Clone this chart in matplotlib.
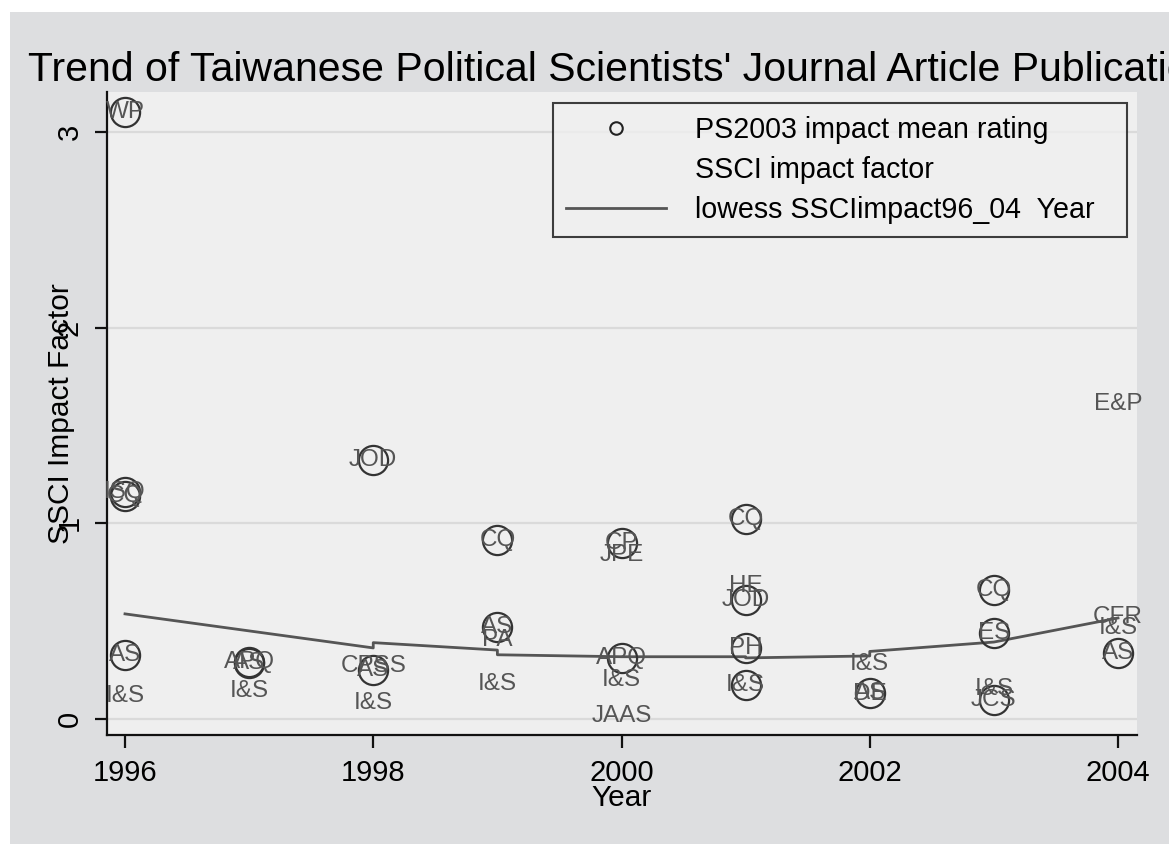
import matplotlib
matplotlib.use("Agg")
import matplotlib.pyplot as plt
from matplotlib.lines import Line2D
from matplotlib.patches import Rectangle

plt.rcParams['font.family'] = ['Liberation Sans', 'DejaVu Sans']

# journals drawn with a circle (PS2003 rating) and their label
circle_year = [1996, 1996, 1996, 1996, 1997, 1997, 1998, 1998, 1999, 1999,
               2000, 2000, 2001, 2001, 2001, 2001, 2002, 2003, 2003, 2003, 2004]
circle_impact = [3.10, 1.16, 1.14, 0.327, 0.29, 0.285, 1.323, 0.25, 0.915, 0.47,
                 0.90, 0.312, 1.022, 0.608, 0.363, 0.174, 0.133, 0.659, 0.44, 0.097, 0.337]
circle_label = ["WP", "ISQ", "CQ", "AS", "APQ", "AS", "JOD", "AS", "CQ", "AS",
                "CP", "APQ", "CQ", "JOD", "PH", "I&S", "AS", "CQ", "ES", "JCS", "AS"]

# journals with only an SSCI label
label_year = [1996, 1997, 1998, 1998, 1999, 1999, 2000, 2000, 2000, 2001,
              2002, 2002, 2003, 2004, 2004, 2004]
label_impact = [0.118, 0.143, 0.27, 0.082, 0.404, 0.179, 0.838, 0.20, 0.015, 0.68,
                0.281, 0.13, 0.153, 1.61, 0.52, 0.465]
label_text = ["I&S", "I&S", "CPSS", "I&S", "PA", "I&S", "JPE", "I&S", "JAAS", "HE",
              "I&S", "DE", "I&S", "E&P", "CFR", "I&S"]

# lowess smooth of SSCI impact on year
lowess_year = [1996, 1998, 1998, 1999, 1999, 2000, 2001, 2001, 2002, 2002, 2003, 2004]
lowess_fit = [0.537, 0.363, 0.39, 0.352, 0.328, 0.318, 0.318, 0.312, 0.322, 0.345, 0.393, 0.516]

fig = plt.figure(figsize=(11.69, 8.44), dpi=100, facecolor='white')
fig.patches.append(Rectangle((10 / 1169, 0), 1, 1 - 12 / 844, transform=fig.transFigure,
                             facecolor='#dddee0', edgecolor='none', zorder=-5))

ax = fig.add_axes([107 / 1169, 1 - 735 / 844, 1030 / 1169, 643 / 844])
ax.set_facecolor('#efefef')
ax.set_xlim(1995.855, 2004.153)
ax.set_ylim(-0.082, 3.204)

for s in ['top', 'right']:
    ax.spines[s].set_visible(False)
for s in ['left', 'bottom']:
    ax.spines[s].set_linewidth(1.6)
    ax.spines[s].set_color('#111111')

ax.set_yticks([0, 1, 2, 3])
ax.set_xticks([1996, 1998, 2000, 2002, 2004])
ax.yaxis.grid(True, color='#dadada', linewidth=1.6)
ax.set_axisbelow(True)
ax.tick_params(axis='both', length=9, width=1.6, color='#111111', labelsize=21)
ax.tick_params(axis='y', labelrotation=90, pad=8)
ax.tick_params(axis='x', pad=8)
for t in ax.get_yticklabels():
    t.set_va('center')

ax.plot(lowess_year, lowess_fit, color='#555555', linewidth=2, zorder=2)

ax.plot(circle_year, circle_impact, linestyle='none', marker='o', markersize=21,
        markerfacecolor='none', markeredgecolor='#333333', markeredgewidth=1.6, zorder=3)

for x, y, s in zip(circle_year, circle_impact, circle_label):
    ax.text(x, y, s, ha='center', va='center', fontsize=17.5, color='#555555', zorder=4)
for x, y, s in zip(label_year, label_impact, label_text):
    ax.text(x, y, s, ha='center', va='center', fontsize=17.5, color='#555555', zorder=4)

ax.set_xlabel("Year", fontsize=21.5, labelpad=-2)
ax.set_ylabel("SSCI Impact Factor", fontsize=21.5)
ax.yaxis.set_label_coords(-0.031, 0.5)

handles = [
    Line2D([], [], linestyle='none', marker='o', markersize=9, markerfacecolor='none',
           markeredgecolor='#222222', markeredgewidth=1.5),
    Line2D([], [], linestyle='none'),
    Line2D([], [], color='#555555', linewidth=2),
]
labels = ["PS2003 impact mean rating", "SSCI impact factor", "lowess SSCIimpact96_04  Year"]
leg = ax.legend(handles, labels, loc='upper left',
                bbox_to_anchor=(553 / 1169, 1 - 237 / 844, 574 / 1169, 134 / 844),
                bbox_transform=fig.transFigure, mode='expand', fontsize=20.6,
                frameon=True, fancybox=False, handlelength=3.5, handletextpad=1.0,
                labelspacing=0.42, borderpad=0.45, borderaxespad=0)
leg.get_frame().set_edgecolor('#111111')
leg.get_frame().set_linewidth(1.5)
leg.get_frame().set_facecolor('#efefef')

fig.text(28 / 1169, 1 - 81 / 844,
         "Trend of Taiwanese Political Scientists' Journal Article Publications",
         fontsize=29.5, va='baseline', ha='left')

fig.savefig("out.png", dpi=100, facecolor=fig.get_facecolor())
